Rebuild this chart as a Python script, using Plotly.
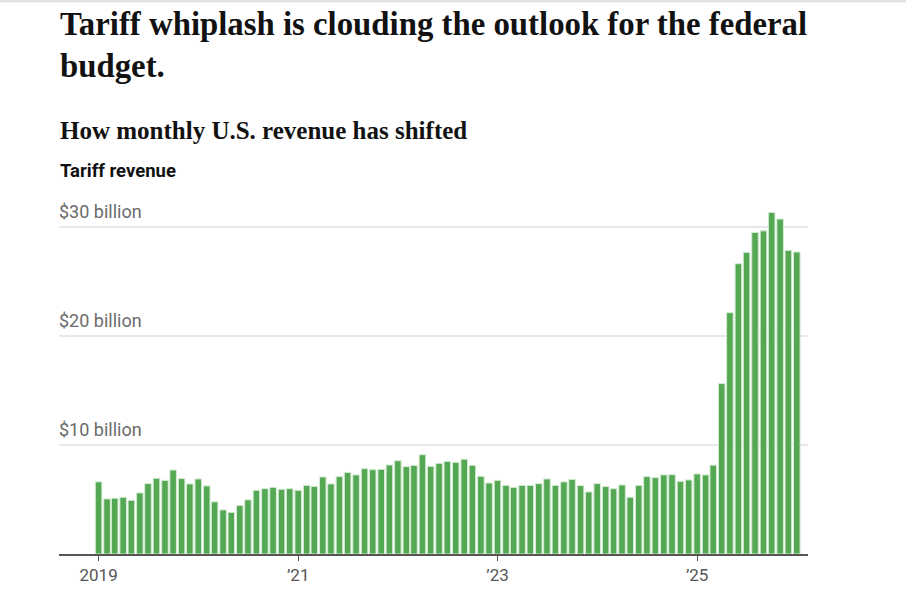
import plotly.graph_objects as go
import pandas as pd

# Monthly dates Jan 2019 .. Jan 2026
months = pd.date_range("2019-01-01", "2026-01-01", freq="MS").strftime("%Y-%m-%d").tolist()

# Tariff revenue, billions of dollars
revenue = [
    6.61, 5.05, 5.11, 5.20, 4.92, 5.60, 6.45, 6.94, 6.75, 7.70, 6.91, 6.42,   # 2019
    6.88, 6.24, 4.78, 4.04, 3.82, 4.44, 4.96, 5.84, 5.99, 6.11, 5.93, 5.99,   # 2020
    5.84, 6.29, 6.20, 7.06, 6.42, 7.09, 7.48, 7.25, 7.82, 7.73, 7.76, 8.16,   # 2021
    8.55, 8.01, 8.12, 9.10, 8.03, 8.31, 8.49, 8.40, 8.69, 8.12, 7.12, 6.51,   # 2022
    6.75, 6.29, 6.11, 6.29, 6.29, 6.45, 6.88, 6.29, 6.61, 6.84, 6.27, 5.69,   # 2023
    6.45, 6.18, 5.99, 6.33, 5.20, 6.29, 7.09, 7.00, 7.25, 7.27, 6.66, 6.79,   # 2024
    7.34, 7.25, 8.14, 15.62, 22.12, 26.61, 27.65, 29.48, 29.62, 31.31, 30.70, 27.83,  # 2025
    27.68,                                                                     # 2026
]

x_tick_vals = ["2019-01-01", "2021-01-01", "2023-01-01", "2025-01-01"]
x_tick_text = ["2019", "\u201921", "\u201923", "\u201925"]
y_tick_vals = [10, 20, 30]
y_tick_text = ["$10 billion", "$20 billion", "$30 billion"]

title_line1 = "Tariff whiplash is clouding the outlook for the federal"
title_line2 = "budget."
subtitle = "How monthly U.S. revenue has shifted"
axis_label = "Tariff revenue"

BAR = "#54a853"
SERIF = "Liberation Serif, DejaVu Serif, serif"
SANS = "Roboto, Liberation Sans, Arial, sans-serif"

fig = go.Figure(go.Bar(
    x=months, y=revenue,
    marker=dict(color=BAR, line=dict(color="#d4ecd3", width=1)),
    hoverinfo="x+y",
))

# plot area geometry (px)
L, R, TOP, BASE = 59, 808, 194, 554.5
H = BASE - TOP

def py(px):
    return (BASE - px) / H

annotations = [
    dict(text=f"<b>{title_line1}</b>", x=0, y=py(44), xref="paper", yref="paper",
         xanchor="left", yanchor="bottom", showarrow=False, xshift=-1,
         font=dict(family=SERIF, size=32.8, color="#121212")),
    dict(text=f"<b>{title_line2}</b>", x=0, y=py(86), xref="paper", yref="paper",
         xanchor="left", yanchor="bottom", showarrow=False, xshift=-1,
         font=dict(family=SERIF, size=32.8, color="#121212")),
    dict(text=f"<b>{subtitle}</b>", x=0, y=py(146), xref="paper", yref="paper",
         xanchor="left", yanchor="bottom", showarrow=False, xshift=-1,
         font=dict(family=SERIF, size=25, color="#121212")),
    dict(text=f"<b>{axis_label}</b>", x=0, y=py(184), xref="paper", yref="paper",
         xanchor="left", yanchor="bottom", showarrow=False, xshift=-1,
         font=dict(family=SANS, size=18.5, color="#121212")),
]
for v, t in zip(y_tick_vals, y_tick_text):
    annotations.append(dict(text=t, x=0, y=v, xref="paper", yref="y",
                            xanchor="left", yanchor="bottom", showarrow=False,
                            yshift=3, xshift=-2,
                            font=dict(family=SANS, size=18, color="#6b6b6b")))

fig.update_layout(
    width=906, height=597,
    margin=dict(l=L, r=906 - R, t=TOP, b=597 - BASE),
    paper_bgcolor="white", plot_bgcolor="white",
    showlegend=False,
    bargap=0.14,
    annotations=annotations,
    xaxis=dict(
        type="date",
        range=["2018-08-09", "2026-02-11"],
        tickvals=x_tick_vals, ticktext=x_tick_text,
        ticks="outside", ticklen=5, tickcolor="#555", tickwidth=1,
        showline=True, linecolor="#555", linewidth=1.5,
        showgrid=False, zeroline=False,
        tickfont=dict(family=SANS, size=17, color="#555"),
    ),
    yaxis=dict(
        range=[0, 33],
        tickvals=y_tick_vals, showticklabels=False,
        showgrid=True, gridcolor="#e8e8e8", gridwidth=1.5,
        zeroline=False, showline=False,
    ),
    shapes=[dict(type="line", xref="paper", yref="paper",
                 x0=-L / (R - L), x1=(906 - L) / (R - L), y0=py(1), y1=py(1),
                 line=dict(color="#dcdcdc", width=2))],
)

fig.write_html("out.html")
